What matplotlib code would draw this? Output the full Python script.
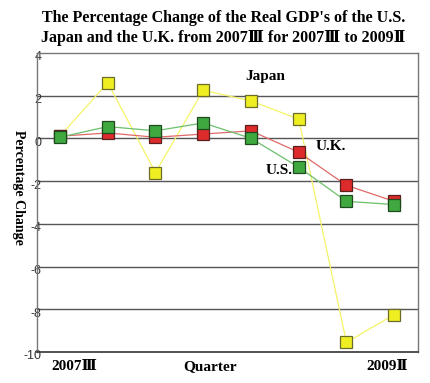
import matplotlib
matplotlib.use("Agg")
import matplotlib.pyplot as plt
from matplotlib.transforms import ScaledTranslation

# quarters 2007III .. 2009II
quarters = ["2007III", "2007IV", "2008I", "2008II", "2008III", "2008IV", "2009I", "2009II"]
japan = [0.1, 2.6, -1.6, 2.25, 1.75, 0.9, -9.55, -8.25]
us = [0.05, 0.55, 0.35, 0.72, 0.0, -1.35, -2.95, -3.1]
uk = [0.1, 0.25, 0.05, 0.2, 0.35, -0.65, -2.2, -2.95]

first_label = "2007Ⅲ"
last_label = "2009Ⅱ"
yticks = [4, 2, 0, -2, -4, -6, -8, -10]

serif = ["Liberation Serif", "DejaVu Serif"]

fig = plt.figure(figsize=(4.31, 3.83), dpi=100)
ax = fig.add_axes([0.086, 0.081, 0.884, 0.781])

x = list(range(len(quarters)))

# draw order: yellow, red, green on top
ax.plot(x, japan, color="#f4f466", lw=0.9, marker="s", ms=9,
        mfc="#eeee22", mec="#6b6b2a", mew=0.9, zorder=3)
ax.plot(x, uk, color="#e06a6a", lw=0.9, marker="s", ms=9,
        mfc="#dd2a2a", mec="#5a2020", mew=0.9, zorder=4)
ax.plot(x, us, color="#6cbf6c", lw=0.9, marker="s", ms=9,
        mfc="#3fa83f", mec="#1f4a1f", mew=0.9, zorder=5)

ax.set_xlim(-0.48, 7.5)
ax.set_ylim(-10, 4)
ax.set_yticks(yticks)
ax.set_yticklabels([str(v) for v in yticks], family="Liberation Sans",
                   fontsize=9, color="#333333")
ax.tick_params(axis="y", length=0, pad=-3)
# labels sit a little below their gridline in the original
shift = ScaledTranslation(0, -3 / 100, fig.dpi_scale_trans)
for lab in ax.get_yticklabels():
    lab.set_transform(lab.get_transform() + shift)
ax.set_xticks([])

for v in yticks[1:-1]:
    ax.axhline(v, color="#555555", lw=1.0, zorder=1)

for s in ["left", "right", "top"]:
    ax.spines[s].set_color("#777777")
    ax.spines[s].set_linewidth(1.0)
ax.spines["bottom"].set_color("#333333")
ax.spines["bottom"].set_linewidth(1.2)

# bottom labels, in axes fraction
for xf, txt in [(0.099, first_label), (0.454, "Quarter"), (0.92, last_label)]:
    ax.text(xf, -0.048, txt, transform=ax.transAxes, family=serif,
            fontsize=11, fontweight="bold", ha="center", va="center")

ax.set_ylabel("Percentage Change", family=serif, fontsize=10,
              fontweight="bold", rotation=-90)
ax.yaxis.set_label_coords(-0.065, 0.55)

ax.text(4.3, 2.9, "Japan", family=serif, fontsize=11, fontweight="bold",
        ha="center", va="center")
ax.text(5.68, -0.4, "U.K.", family=serif, fontsize=11, fontweight="bold",
        ha="center", va="center")
ax.text(4.58, -1.5, "U.S.", family=serif, fontsize=11, fontweight="bold",
        ha="center", va="center")

fig.text(0.518, 0.952, "The Percentage Change of the Real GDP's of the U.S.",
         family=serif, fontsize=11.5, fontweight="bold", ha="center", va="center")
fig.text(0.518, 0.901, "Japan and the U.K. from 2007Ⅲ for 2007Ⅲ to 2009Ⅱ",
         family=serif, fontsize=11.5, fontweight="bold", ha="center", va="center")

fig.savefig("out.png", dpi=100)
